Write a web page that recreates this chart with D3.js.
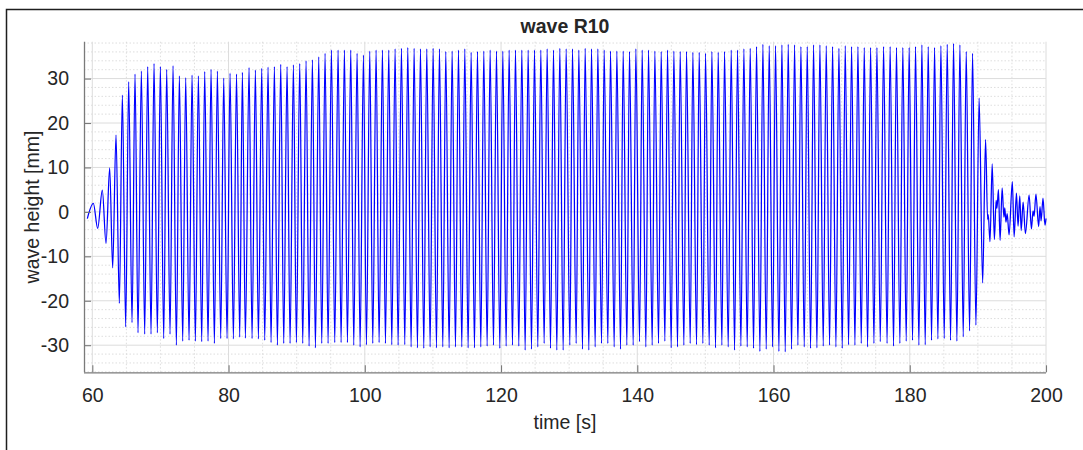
<!DOCTYPE html>
<html>
<head>
<meta charset="utf-8">
<script src="https://cdn.jsdelivr.net/npm/d3@7"></script>
<style>
  html, body { margin: 0; padding: 0; background: #fff; }
  svg { display: block; }
  text { font-family: "Liberation Sans", Arial, Helvetica, sans-serif; fill: #262626; }
</style>
</head>
<body>
<svg id="chart" width="1083" height="450"></svg>
<script>
// Turning points (crests and troughs) of the gauge R10 record: time [s] and surface elevation [mm]
const turnTime = [
  59.27, 60.15, 60.79, 61.47, 62.01, 62.55, 62.99, 63.48, 63.97, 64.41,
  64.90, 65.34, 65.83, 66.27, 66.71, 67.20, 67.69, 68.13, 68.62, 69.06,
  69.55, 69.99, 70.48, 70.92, 71.41, 71.85, 72.34, 72.78, 73.27, 73.71,
  74.20, 74.64, 75.13, 75.57, 76.06, 76.50, 76.99, 77.43, 77.92, 78.36,
  78.85, 79.29, 79.78, 80.22, 80.71, 81.17, 81.64, 82.03, 82.47, 83.01,
  83.45, 83.94, 84.38, 84.87, 85.31, 85.80, 86.24, 86.73, 87.17, 87.66,
  88.10, 88.59, 89.03, 89.52, 89.96, 90.45, 90.89, 91.38, 91.82, 92.31,
  92.75, 93.24, 93.68, 94.17, 94.61, 95.10, 95.59, 96.08, 96.52, 97.01,
  97.45, 97.94, 98.38, 98.87, 99.31, 99.80, 100.24, 100.73, 101.17, 101.66,
  102.10, 102.59, 103.03, 103.52, 103.96, 104.45, 104.89, 105.38, 105.87, 106.31,
  106.80, 107.24, 107.73, 108.17, 108.66, 109.10, 109.59, 110.03, 110.52, 110.96,
  111.45, 111.89, 112.38, 112.82, 113.31, 113.75, 114.24, 114.68, 115.17, 115.61,
  116.10, 116.54, 117.03, 117.47, 117.96, 118.40, 118.89, 119.33, 119.82, 120.26,
  120.75, 121.19, 121.68, 122.12, 122.61, 123.05, 123.54, 123.98, 124.47, 124.91,
  125.40, 125.84, 126.33, 126.77, 127.26, 127.70, 128.19, 128.63, 129.12, 129.56,
  130.10, 130.49, 131.03, 131.42, 131.96, 132.35, 132.89, 133.28, 133.82, 134.21,
  134.75, 135.14, 135.68, 136.07, 136.61, 137.00, 137.54, 137.93, 138.47, 138.86,
  139.40, 139.79, 140.33, 140.72, 141.26, 141.65, 142.19, 142.58, 143.12, 143.51,
  144.05, 144.44, 144.98, 145.37, 145.91, 146.30, 146.84, 147.23, 147.77, 148.16,
  148.70, 149.09, 149.63, 150.02, 150.56, 150.95, 151.49, 151.88, 152.42, 152.81,
  153.35, 153.79, 154.28, 154.72, 155.21, 155.65, 156.14, 156.58, 157.07, 157.51,
  158.00, 158.44, 158.93, 159.37, 159.86, 160.30, 160.79, 161.23, 161.72, 162.16,
  162.65, 163.09, 163.58, 164.02, 164.51, 164.95, 165.44, 165.88, 166.37, 166.81,
  167.30, 167.74, 168.23, 168.67, 169.16, 169.60, 170.09, 170.53, 171.02, 171.46,
  171.95, 172.39, 172.88, 173.32, 173.81, 174.25, 174.74, 175.18, 175.67, 176.16,
  176.67, 177.12, 177.62, 178.05, 178.55, 178.98, 179.48, 179.91, 180.41, 180.85,
  181.34, 181.78, 182.27, 182.71, 183.20, 183.64, 184.13, 184.57, 185.06, 185.50,
  185.99, 186.43, 186.92, 187.36, 187.85, 188.29, 188.78, 189.22, 189.71, 190.18,
  190.70, 191.13, 191.43, 191.52, 191.78, 192.10, 192.42, 192.68, 192.80, 193.02,
  193.26, 193.56, 193.82, 193.95, 194.12, 194.30, 194.58, 195.06, 195.32, 195.66,
  195.90, 196.15, 196.36, 196.64, 196.98, 197.52, 197.86, 198.10, 198.25, 198.52,
  198.92, 199.12, 199.28, 199.56, 199.85, 200.00
];
const turnHeight = [
  -1.5, 1.9, -3.7, 4.9, -7.1, 9.9, -12.6, 17.3, -20.6, 26.3,
  -25.9, 29.3, -24.9, 31.0, -27.2, 31.7, -27.5, 32.7, -27.5, 33.4,
  -27.2, 32.7, -28.5, 32.1, -27.5, 32.9, -30.0, 30.6, -29.1, 30.2,
  -28.9, 30.8, -29.1, 30.6, -29.2, 31.6, -29.1, 32.1, -29.6, 31.7,
  -28.5, 30.1, -28.5, 31.2, -28.6, 31.0, -28.2, 31.4, -28.4, 32.5,
  -28.5, 31.9, -28.6, 32.3, -28.9, 32.6, -29.4, 32.7, -30.0, 33.2,
  -29.6, 32.7, -29.6, 33.1, -29.4, 33.4, -29.6, 34.0, -30.2, 34.2,
  -30.6, 34.9, -29.6, 35.7, -29.6, 36.4, -29.4, 36.4, -29.4, 36.4,
  -29.4, 36.4, -30.0, 35.7, -30.4, 35.3, -29.9, 36.2, -29.6, 36.4,
  -29.4, 36.4, -29.6, 36.4, -29.9, 36.7, -30.0, 36.8, -29.9, 37.0,
  -30.4, 36.8, -30.6, 36.7, -30.7, 36.7, -30.4, 36.8, -30.6, 36.7,
  -30.4, 36.1, -30.6, 36.2, -30.4, 36.4, -30.4, 36.7, -30.6, 35.9,
  -30.6, 36.1, -30.4, 36.2, -30.2, 36.4, -30.0, 36.2, -30.7, 36.2,
  -30.2, 36.4, -30.0, 36.4, -30.2, 36.4, -31.1, 36.4, -30.9, 36.4,
  -30.4, 36.4, -29.6, 36.7, -30.7, 36.4, -31.1, 36.8, -31.1, 36.7,
  -30.0, 36.7, -29.6, 36.4, -30.9, 36.8, -31.1, 36.7, -30.4, 36.7,
  -29.6, 36.4, -29.6, 36.2, -30.4, 36.2, -30.9, 36.2, -30.0, 36.1,
  -30.0, 36.7, -29.2, 36.4, -30.4, 36.4, -30.0, 36.2, -29.6, 36.1,
  -29.1, 36.4, -30.6, 36.2, -30.4, 36.1, -30.0, 36.1, -29.6, 35.9,
  -29.9, 35.9, -29.6, 35.7, -30.0, 36.1, -30.6, 35.9, -30.0, 36.1,
  -30.4, 36.4, -31.1, 36.4, -30.2, 36.7, -30.4, 36.8, -30.7, 37.2,
  -31.4, 37.7, -30.9, 37.4, -30.4, 37.4, -31.4, 37.6, -31.5, 37.7,
  -30.9, 37.6, -30.0, 37.2, -30.4, 37.2, -30.7, 37.6, -30.6, 37.6,
  -30.2, 37.4, -30.0, 37.2, -30.4, 36.8, -30.7, 37.4, -29.9, 37.2,
  -30.0, 37.2, -29.6, 37.0, -30.4, 37.0, -29.6, 37.0, -29.2, 37.2,
  -29.6, 37.2, -30.2, 37.0, -29.6, 37.0, -29.1, 37.0, -28.9, 37.2,
  -30.0, 37.6, -29.9, 37.2, -28.9, 37.0, -28.6, 37.4, -28.5, 37.7,
  -28.9, 37.9, -29.1, 37.6, -28.1, 36.1, -26.8, 35.7, -25.5, 25.6,
  -16.0, 16.3, -1.7, -0.6, -6.7, 10.8, -6.2, 2.6, 0.8, 5.0,
  -6.4, 5.4, -1.2, 0.9, -2.3, -0.4, -5.2, 6.8, -5.6, 4.2,
  -3.2, 3.6, -4.2, 2.2, -4.9, 3.8, -3.8, 0.2, -1.0, 4.0,
  -3.3, 1.2, -2.0, 3.1, -3.0, -1.5
];

// Axis settings
const xDomain = [58.78, 200];
const yDomain = [-36.1, 38.3];
const xTicks = [60, 80, 100, 120, 140, 160, 180, 200];
const yTicks = [-30, -20, -10, 0, 10, 20, 30];
const xMinorStep = 5;
const yMinorStep = 2;

const titleText = "wave R10";
const xLabelText = "time [s]";
const yLabelText = "wave height [mm]";

const svg = d3.select("#chart");
const W = 1083, H = 450;
const plot = { left: 84, right: 1046, top: 41.7, bottom: 372.3 };

// Figure frame
svg.append("path")
  .attr("d", `M6.5,${H} V9.5 H${W}`)
  .attr("fill", "none")
  .attr("stroke", "#1e1e1e")
  .attr("stroke-width", 1.5);

const x = d3.scaleLinear().domain(xDomain).range([plot.left, plot.right]);
const y = d3.scaleLinear().domain(yDomain).range([plot.bottom, plot.top]);

// Minor grid (dotted)
const xMinor = d3.range(60, 200 + 1e-9, xMinorStep).filter(v => !xTicks.includes(v));
const yMinor = d3.range(-36, 38.3, yMinorStep).filter(v => !yTicks.includes(v));
const grid = svg.append("g");
grid.selectAll(".xm").data(xMinor).join("line")
  .attr("x1", d => x(d)).attr("x2", d => x(d))
  .attr("y1", plot.top).attr("y2", plot.bottom)
  .attr("stroke", "#d6d6d6").attr("stroke-width", 0.8)
  .attr("stroke-dasharray", "1.5,2");
grid.selectAll(".ym").data(yMinor).join("line")
  .attr("x1", plot.left).attr("x2", plot.right)
  .attr("y1", d => y(d)).attr("y2", d => y(d))
  .attr("stroke", "#d6d6d6").attr("stroke-width", 0.8)
  .attr("stroke-dasharray", "1.5,2");

// Major grid (solid)
grid.selectAll(".xM").data(xTicks).join("line")
  .attr("x1", d => x(d)).attr("x2", d => x(d))
  .attr("y1", plot.top).attr("y2", plot.bottom)
  .attr("stroke", "#dcdcdc").attr("stroke-width", 1);
grid.selectAll(".yM").data(yTicks).join("line")
  .attr("x1", plot.left).attr("x2", plot.right)
  .attr("y1", d => y(d)).attr("y2", d => y(d))
  .attr("stroke", "#dcdcdc").attr("stroke-width", 1);

// Wave trace
const points = turnTime.map((t, i) => [t, turnHeight[i]]);
const line = d3.line()
  .x(d => x(d[0]))
  .y(d => y(d[1]))
  .curve(d3.curveMonotoneX);
svg.append("path")
  .datum(points)
  .attr("d", line)
  .attr("fill", "none")
  .attr("stroke", "#0000ff")
  .attr("stroke-width", 1.25)
  .attr("stroke-linejoin", "round");

// Axes with inward ticks; labels use a plain hyphen for negatives
const fmt = d => String(d);
const xAxis = d3.axisBottom(x).tickValues(xTicks).tickSizeInner(-7).tickSizeOuter(0).tickPadding(16).tickFormat(fmt);
const yAxis = d3.axisLeft(y).tickValues(yTicks).tickSizeInner(-7).tickSizeOuter(0).tickPadding(15).tickFormat(fmt);

const gx = svg.append("g").attr("transform", `translate(0,${plot.bottom})`).call(xAxis);
const gy = svg.append("g").attr("transform", `translate(${plot.left},0)`).call(yAxis);
[gx, gy].forEach(g => {
  g.select(".domain").attr("stroke", "#7a7a7a").attr("stroke-width", 1.3);
  g.selectAll(".tick line").attr("stroke", "#7a7a7a").attr("stroke-width", 1.1);
  g.selectAll(".tick text")
    .attr("font-family", "'Liberation Sans', Arial, sans-serif")
    .attr("font-size", 19.5)
    .attr("fill", "#262626");
});
gx.select(".domain").attr("d", `M${plot.left},0.5H${plot.right}`);
gy.select(".domain").attr("d", `M0.5,${plot.bottom}V${plot.top}`);

// Title and axis labels
svg.append("text")
  .attr("x", (plot.left + plot.right) / 2).attr("y", 33)
  .attr("text-anchor", "middle")
  .attr("font-size", 19.5).attr("font-weight", "bold")
  .attr("fill", "#000")
  .text(titleText);

svg.append("text")
  .attr("x", (plot.left + plot.right) / 2).attr("y", 429)
  .attr("text-anchor", "middle")
  .attr("font-size", 19.5)
  .text(xLabelText);

svg.append("text")
  .attr("transform", `translate(39,${(plot.top + plot.bottom) / 2}) rotate(-90)`)
  .attr("text-anchor", "middle")
  .attr("font-size", 19.5)
  .text(yLabelText);
</script>
</body>
</html>
